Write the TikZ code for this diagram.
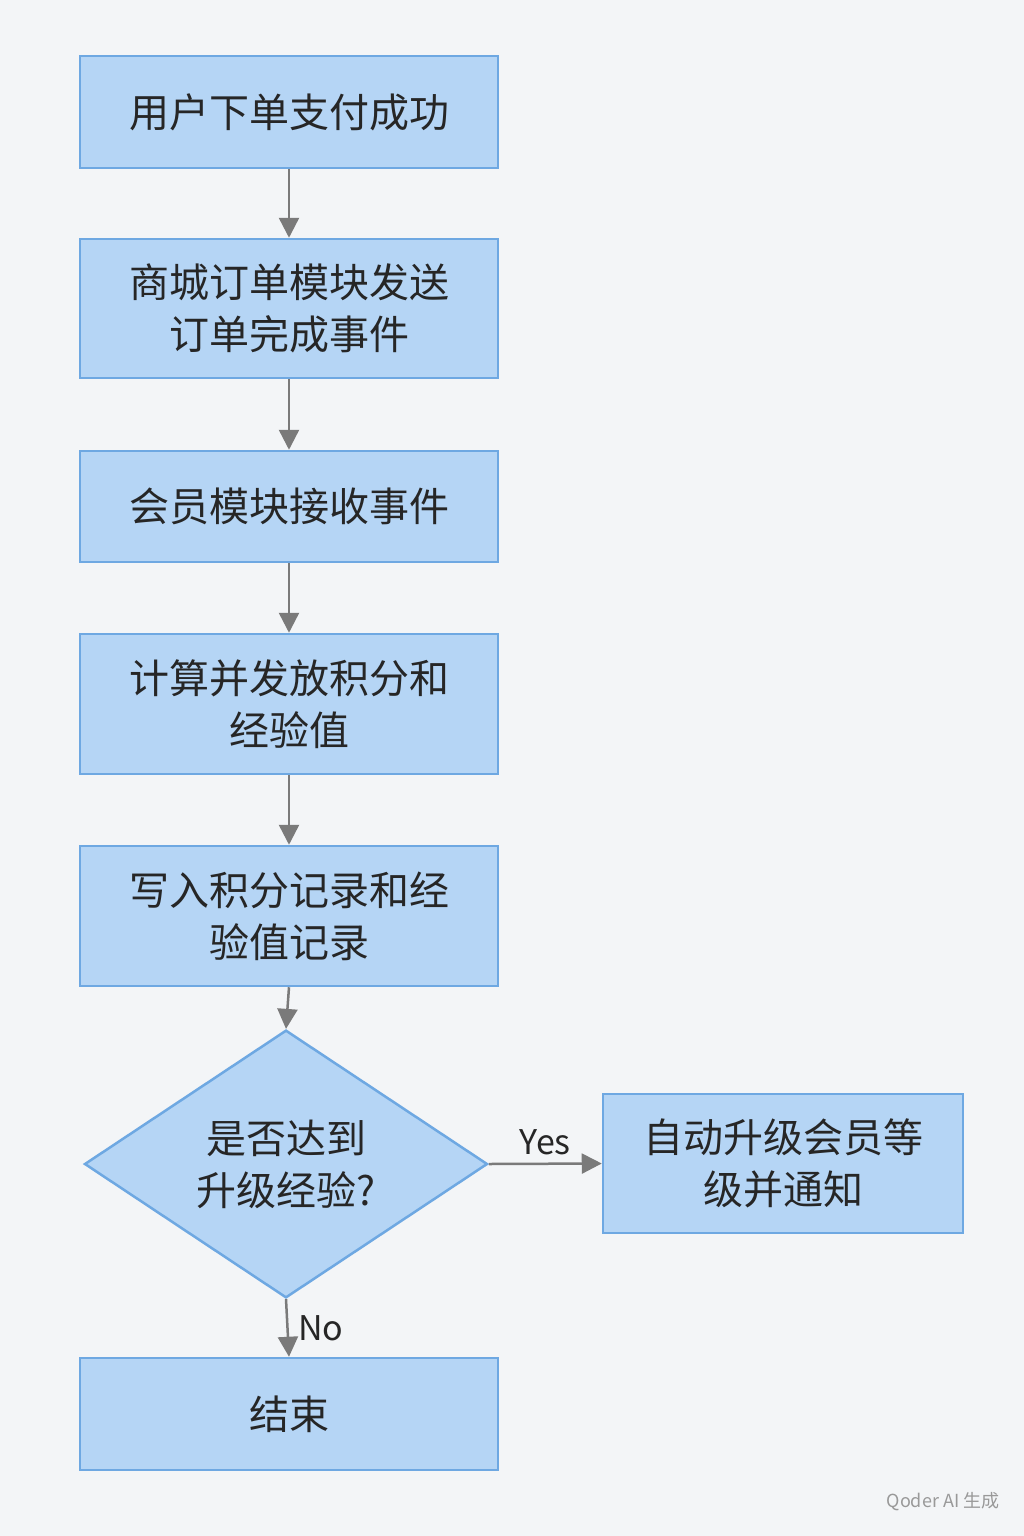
\documentclass[tikz,border=0pt]{standalone}
\usepackage{fontspec}
\setmainfont{Noto Sans CJK SC}
\usetikzlibrary{shapes.geometric,arrows.meta}
\definecolor{bfill}{HTML}{B5D5F5}
\definecolor{bline}{HTML}{6EA8E2}
\definecolor{arr}{HTML}{7A7A7A}
\definecolor{bg}{HTML}{F3F5F7}
\begin{document}
\begin{tikzpicture}[x=1pt,y=-1pt,
  box/.style={draw=bline,line width=2.5pt,fill=bfill,minimum width=418pt,inner sep=0pt,align=center,font=\fontsize{40}{52}\selectfont,text=black!85},
  dia/.style={diamond,draw=bline,line width=2.5pt,fill=bfill,minimum width=403pt,minimum height=208pt,inner sep=0pt,align=center,font=\fontsize{40}{52}\selectfont,text=black!85},
  ar/.style={draw=arr,line width=2.5pt,-{Triangle[length=20pt,width=20pt]}},
  lab/.style={font=\fontsize{34}{40}\selectfont,text=black!85}]
\fill[bg] (0,0) rectangle (1024,1536);
\useasboundingbox (0,0) rectangle (1024,1536);
\node[box,minimum height=112pt] (a) at (289,112) {用户下单支付成功};
\node[box,minimum height=139pt] (b) at (289,308.5) {商城订单模块发送\\订单完成事件};
\node[box,minimum height=111pt] (c) at (289,506.5) {会员模块接收事件};
\node[box,minimum height=140pt] (d) at (289,704) {计算并发放积分和\\经验值};
\node[box,minimum height=140pt] (e) at (289,916) {写入积分记录和经\\验值记录};
\node[dia] (f) at (286,1164) {是否达到\\升级经验?};
\node[box,minimum width=360pt,minimum height=139pt] (g) at (783,1163.5) {自动升级会员等\\级并通知};
\node[box,minimum height=112pt] (h) at (289,1414) {结束};
\draw[ar] (a) -- (b);
\draw[ar] (b) -- (c);
\draw[ar] (c) -- (d);
\draw[ar] (d) -- (e);
\draw[ar] (e.south) -- (f.north);
\draw[ar] (f.east) -- (g.west) node[lab,midway,above=4pt] {Yes};
\draw[ar] (f.south) -- (h.north) node[lab,midway,right=6pt] {No};
\node[font=\fontsize{18}{20}\selectfont,text=black!40] (w) at (943,1502) {Qoder AI 生成};
\end{tikzpicture}
\end{document}
